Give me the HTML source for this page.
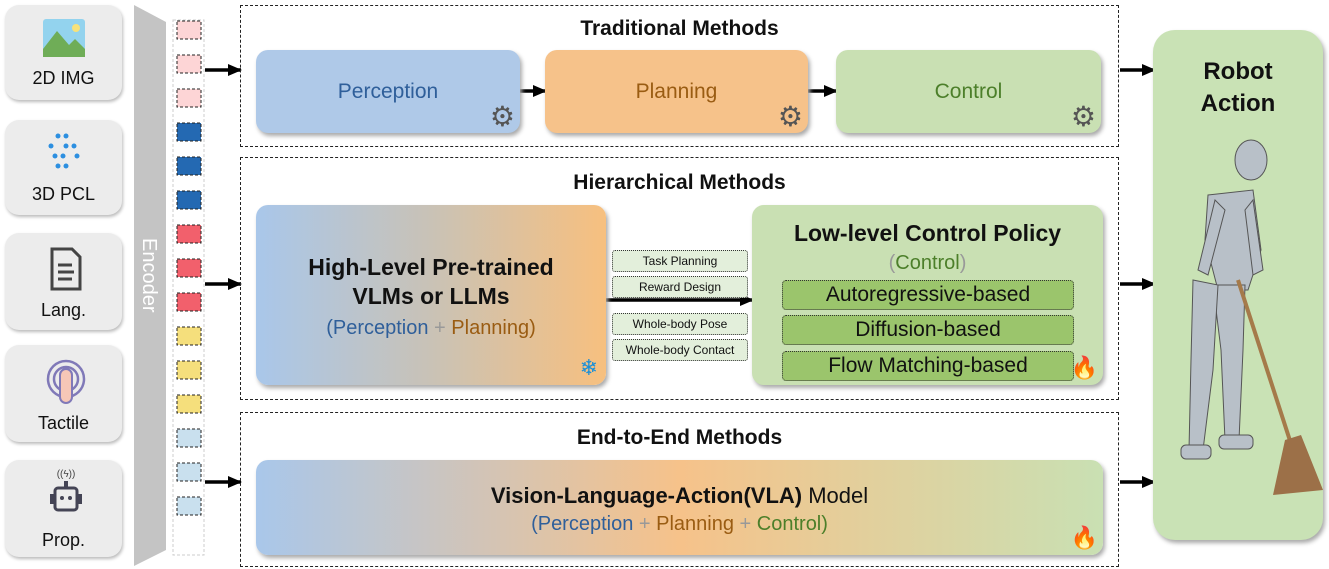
<!DOCTYPE html>
<html><head><meta charset="utf-8"><style>
body{margin:0;width:1329px;height:569px;background:#fff;position:relative;overflow:hidden;font-family:"Liberation Sans",sans-serif}
.a{position:absolute}
.card{position:absolute;left:5px;width:117px;background:#ececec;border-radius:14px;box-shadow:1px 2px 3px #bbb;text-align:center;font-size:18px;color:#111}
.dash{position:absolute;left:240px;width:877px;border:1.3px dashed #222}
.t{position:absolute;width:100%;text-align:center;font-weight:bold;font-size:21px;color:#111}
.box{position:absolute;border-radius:12px;box-shadow:2px 3px 4px #aaa;text-align:center}
.lab{position:absolute;left:612px;width:134px;height:20px;border:1.2px dotted #333;border-radius:3px;background:#e3efdb;font-size:12px;line-height:20px;text-align:center;color:#111}
.gr{position:absolute;left:782px;width:290px;height:28px;border:1.3px dotted #333;border-radius:4px;background:#9bc56c;font-size:21px;line-height:28px;text-align:center;color:#111}
.gear{position:absolute;right:5px;bottom:2px;font-size:28px;line-height:28px;color:#555}
</style></head><body>
<div class="card" style="top:5px;height:95px"><svg class="a" style="left:38px;top:14px" width="42" height="38"><rect width="42" height="38" rx="3" fill="#93d3ee"/><circle cx="33" cy="9" r="4" fill="#f7e27a"/><path d="M0 30 L14 12 L26 26 L32 20 L42 30 V38 H0Z" fill="#6fad57"/></svg><div class="a" style="top:63px;width:100%">2D IMG</div></div>
<div class="card" style="top:120px;height:95px"><svg class="a" style="left:38px;top:8px" width="42" height="48"><g fill="#2c8fe0"><circle cx="15" cy="8" r="2.5"/><circle cx="23" cy="8" r="2.5"/><circle cx="8" cy="18" r="2.5"/><circle cx="23" cy="18" r="2.5"/><circle cx="31" cy="18" r="2.5"/><circle cx="12" cy="28" r="2.5"/><circle cx="20" cy="28" r="2.5"/><circle cx="34" cy="28" r="2.5"/><circle cx="15" cy="38" r="2.5"/><circle cx="23" cy="38" r="2.5"/></g></svg><div class="a" style="top:64px;width:100%">3D PCL</div></div>
<div class="card" style="top:233px;height:97px"><svg class="a" style="left:45px;top:14px" width="32" height="44"><path d="M2 2 H22 L30 10 V42 H2Z" fill="none" stroke="#444" stroke-width="3"/><path d="M8 18H22M8 25H24M8 32H22" stroke="#444" stroke-width="3"/></svg><div class="a" style="top:67px;width:100%">Lang.</div></div>
<div class="card" style="top:345px;height:97px"><svg class="a" style="left:40px;top:12px" width="42" height="50"><circle cx="21" cy="22" r="18" fill="none" stroke="#8079b8" stroke-width="2.5"/><circle cx="21" cy="22" r="12" fill="none" stroke="#8079b8" stroke-width="2.5"/><rect x="15" y="12" width="12" height="34" rx="6" fill="#f6c7b7" stroke="#8079b8" stroke-width="2"/></svg><div class="a" style="top:68px;width:100%">Tactile</div></div>
<div class="card" style="top:460px;height:97px"><svg class="a" style="left:42px;top:6px" width="38" height="56"><text x="19" y="11" font-size="10" text-anchor="middle" fill="#444">((ϟ))</text><rect x="8" y="22" width="22" height="22" rx="3" fill="none" stroke="#445" stroke-width="3"/><rect x="3" y="28" width="4" height="10" fill="#445"/><rect x="31" y="28" width="4" height="10" fill="#445"/><circle cx="15" cy="32" r="2" fill="#445"/><circle cx="23" cy="32" r="2" fill="#445"/><rect x="17" y="15" width="4" height="7" fill="#445"/></svg><div class="a" style="top:70px;width:100%">Prop.</div></div>

<svg class="a" style="left:0;top:0" width="1329" height="569">
<defs><marker id="m" markerWidth="14" markerHeight="14" refX="13" refY="7" orient="auto" markerUnits="userSpaceOnUse"><path d="M0 1L14 7L0 13Z" fill="#000"/></marker></defs>
<path d="M134 5 L166 22 L166 550 L134 566Z" fill="#c4c4c4"/>
<text transform="translate(143,238) rotate(90)" font-size="20" fill="#fff" font-family="Liberation Sans">Encoder</text>
<rect x="173" y="20" width="31" height="535" fill="none" stroke="#ccc" stroke-dasharray="3,2"/>
<g stroke="#222" stroke-dasharray="3,2" stroke-width="1">
<rect x="177" y="21" width="24" height="18" fill="#fdd5d6"/><rect x="177" y="55" width="24" height="18" fill="#fdd5d6"/><rect x="177" y="89" width="24" height="18" fill="#fdd5d6"/>
<rect x="177" y="123" width="24" height="18" fill="#2469b2"/><rect x="177" y="157" width="24" height="18" fill="#2469b2"/><rect x="177" y="191" width="24" height="18" fill="#2469b2"/>
<rect x="177" y="225" width="24" height="18" fill="#f2606c"/><rect x="177" y="259" width="24" height="18" fill="#f2606c"/><rect x="177" y="293" width="24" height="18" fill="#f2606c"/>
<rect x="177" y="327" width="24" height="18" fill="#f5df7c"/><rect x="177" y="361" width="24" height="18" fill="#f5df7c"/><rect x="177" y="395" width="24" height="18" fill="#f5df7c"/>
<rect x="177" y="429" width="24" height="18" fill="#c9e0ee"/><rect x="177" y="463" width="24" height="18" fill="#c9e0ee"/><rect x="177" y="497" width="24" height="18" fill="#c9e0ee"/>
</g>
<g stroke="#000" stroke-width="3.5" marker-end="url(#m)">
<line x1="205" y1="70" x2="241" y2="70"/><line x1="205" y1="284" x2="241" y2="284"/><line x1="205" y1="482" x2="241" y2="482"/>
<line x1="1120" y1="70" x2="1155" y2="70"/><line x1="1120" y1="284" x2="1155" y2="284"/><line x1="1120" y1="482" x2="1155" y2="482"/>
<line x1="520" y1="91" x2="546" y2="91"/><line x1="808" y1="91" x2="837" y2="91"/>
<line x1="606" y1="300" x2="753" y2="300"/>
</g>
</svg>

<div class="dash" style="top:5px;height:140px"><div class="t" style="top:11px">Traditional Methods</div></div>
<div class="dash" style="top:157px;height:241px"><div class="t" style="top:13px">Hierarchical Methods</div></div>
<div class="dash" style="top:412px;height:153px"><div class="t" style="top:13px">End-to-End Methods</div></div>

<div class="box" style="left:256px;top:50px;width:264px;height:83px;background:#afc9e8;color:#2f5f9a;font-size:21px;line-height:83px">Perception<span class="gear">⚙</span></div>
<div class="box" style="left:545px;top:50px;width:263px;height:83px;background:#f6c28a;color:#9a5c12;font-size:21px;line-height:83px">Planning<span class="gear">⚙</span></div>
<div class="box" style="left:836px;top:50px;width:265px;height:83px;background:#c9e0b3;color:#4c7f2a;font-size:21px;line-height:83px">Control<span class="gear">⚙</span></div>

<div class="box" style="left:256px;top:205px;width:350px;height:180px;background:linear-gradient(90deg,#a9c7ea,#c9c2b6 50%,#f7c07f)">
<div class="a" style="top:48px;width:100%;font-weight:bold;font-size:23px;line-height:29px;color:#111">High-Level Pre-trained<br>VLMs or LLMs</div>
<div class="a" style="top:112px;width:100%;font-size:20px;color:#999"><span style="color:#2f5f9a">(Perception</span> + <span style="color:#9a5c12">Planning)</span></div>
<span class="a" style="right:8px;bottom:4px;font-size:22px;color:#1a8fd8">❄</span></div>
<div class="lab" style="top:250px">Task Planning</div>
<div class="lab" style="top:276px">Reward Design</div>
<div class="lab" style="top:313px">Whole-body Pose</div>
<div class="lab" style="top:339px">Whole-body Contact</div>

<div class="box" style="left:752px;top:205px;width:351px;height:180px;background:#c9e0b3">
<div class="a" style="top:15px;width:100%;font-weight:bold;font-size:23px;color:#111">Low-level Control Policy</div>
<div class="a" style="top:47px;width:100%;font-size:20px;color:#999">(<span style="color:#4c7f2a">Control</span>)</div>
<span class="a" style="right:5px;bottom:4px;font-size:22px;color:#f5b840">🔥</span></div>
<div class="gr" style="top:280px">Autoregressive-based</div>
<div class="gr" style="top:315px">Diffusion-based</div>
<div class="gr" style="top:351px">Flow Matching-based</div>

<div class="box" style="left:256px;top:460px;width:847px;height:95px;background:linear-gradient(90deg,#a9c7ea,#f6c28a 50%,#c9e0b3)">
<div class="a" style="top:23px;width:100%;font-size:22px;color:#111"><b>Vision-Language-Action(VLA)</b> Model</div>
<div class="a" style="top:53px;width:100%;font-size:20px;color:#999"><span style="color:#2f5f9a">(Perception</span> + <span style="color:#9a5c12">Planning</span> + <span style="color:#4c7f2a">Control)</span></div>
<span class="a" style="right:5px;bottom:4px;font-size:22px;color:#f5b840">🔥</span></div>

<div class="box" style="left:1153px;top:30px;width:170px;height:510px;background:#c9e2b5;border-radius:22px">
<div class="a" style="top:26px;width:100%;font-weight:bold;font-size:24px;line-height:32px;color:#111">Robot<br>Action</div>
<svg class="a" style="left:0;top:0" width="170" height="510">
<g fill="#b8c0c8" stroke="#555" stroke-width="1">
<ellipse cx="98" cy="130" rx="16" ry="20"/>
<path d="M55 165 L100 160 L108 220 L95 260 L65 260 L52 210Z"/>
<path d="M62 170 L45 240 L55 245 L72 180Z"/>
<path d="M100 170 L110 240 L100 245 L92 180Z"/>
<path d="M60 255 L92 255 L90 320 L86 410 L72 410 L68 320Z"/>
<path d="M40 250 L65 255 L60 340 L50 420 L36 420 L38 330Z"/>
<rect x="28" y="415" width="30" height="14" rx="5"/>
<rect x="66" y="405" width="34" height="14" rx="5"/>
</g>
<line x1="85" y1="250" x2="140" y2="420" stroke="#a57a4a" stroke-width="4"/>
<path d="M132 410 L148 405 L170 460 L120 465Z" fill="#9c7048"/>
</svg></div>
</body></html>
